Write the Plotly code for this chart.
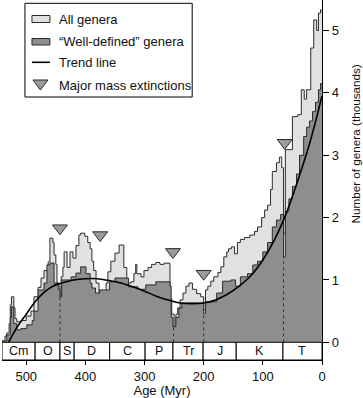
import plotly.graph_objects as go

# ---------------- data ----------------
all_age = [541, 536, 533, 529, 527, 525, 521, 519, 516, 509, 500, 492, 487, 480, 475, 470,
           463, 460, 455, 453, 450, 448, 445, 443, 441, 438, 436, 431, 426, 421, 416, 411,
           408, 401, 396, 392, 389, 386, 382, 377, 371, 365, 362, 357, 350, 343, 335, 330,
           323, 318, 315, 313, 306, 301, 294, 288, 281, 274, 267, 257, 254, 250, 247, 244,
           240, 235, 230, 225, 219, 212, 205, 200, 197, 193, 188, 183, 176, 171, 166, 161,
           158, 153, 148, 143, 138, 131, 122, 114, 109, 102, 97, 92, 87, 84, 77, 72,
           68, 65, 62, 50, 41, 35, 30, 26, 19, 14, 9, 6, 2.5, 0]
all_val = [0.02, 0.10, 0.15, 0.30, 0.60, 0.73, 0.55, 0.38, 0.33, 0.35, 0.42, 0.50, 0.73, 0.88, 1.03, 1.15,
           1.29, 1.67, 1.60, 1.40, 1.25, 0.95, 0.90, 0.73, 1.05, 1.20, 1.45, 1.20, 1.45, 1.35, 1.55, 1.72,
           1.75, 1.70, 1.60, 1.50, 1.30, 1.15, 0.95, 0.70, 0.80, 0.95, 1.13, 1.30, 1.43, 1.56, 1.20, 0.95,
           0.97, 1.10, 1.25, 1.10, 1.05, 1.15, 1.20, 1.25, 1.28, 1.25, 1.27, 0.70, 0.45, 0.25, 0.45, 0.55,
           0.68, 0.79, 0.90, 0.95, 0.85, 0.78, 0.73, 0.52, 0.84, 0.90, 0.98, 1.05, 1.12, 1.21, 1.37, 1.45,
           1.50, 1.53, 1.42, 1.60, 1.65, 1.68, 1.72, 1.78, 1.85, 2.00, 2.12, 2.20, 2.45, 2.74, 2.88, 2.97,
           2.80, 1.75, 3.09, 3.62, 3.65, 4.05, 3.90, 4.05, 4.72, 5.17, 5.00, 5.28, 5.33, 5.33]

wd_age = [541, 533, 527, 525, 521, 516, 509, 499, 490, 487, 480, 470, 465, 460, 453, 446,
          443, 440, 424, 416, 408, 399, 392, 389, 383, 376, 359, 350, 327, 311, 298, 281,
          257, 255, 252, 247, 242, 237, 200, 197, 178, 168, 154, 146, 138, 126, 117, 109,
          100, 92, 84, 77, 70, 65, 62, 56, 50, 43, 38, 31, 26, 21, 16, 11, 6, 2.5, 0]
wd_val = [0.02, 0.12, 0.40, 0.57, 0.30, 0.20, 0.22, 0.28, 0.35, 0.50, 0.84, 0.95, 1.24, 1.27, 0.95, 0.85,
          0.73, 1.00, 1.05, 1.11, 1.21, 1.10, 0.95, 0.87, 0.79, 0.84, 0.97, 1.03, 0.89, 0.85, 0.92, 0.97,
          0.90, 0.40, 0.25, 0.40, 0.55, 0.63, 0.46, 0.65, 0.79, 0.98, 1.00, 0.90, 1.05, 1.10, 1.24, 1.30,
          1.45, 1.60, 1.85, 1.96, 2.05, 1.37, 2.10, 2.30, 2.50, 2.70, 3.00, 3.30, 3.45, 3.55, 3.70, 3.85,
          4.05, 4.15, 4.15]

trend_age = [530, 515, 500, 485, 470, 455, 440, 420, 400, 380, 360, 340, 320, 300, 280, 260,
             240, 220, 200, 180, 160, 140, 120, 100, 80, 60, 40, 20, 0]
trend_val = [0.00, 0.25, 0.45, 0.65, 0.80, 0.90, 0.95, 1.00, 1.02, 1.02, 0.99, 0.95, 0.89, 0.82, 0.74, 0.68,
             0.63, 0.62, 0.63, 0.68, 0.77, 0.90, 1.07, 1.32, 1.65, 2.08, 2.62, 3.22, 3.95]

ext_age = [443, 375, 252, 200, 63]
ext_mark = [1.83, 1.72, 1.45, 1.10, 3.20]

dash_age = [443, 251, 200, 65]
dash_top = [0.73, 0.25, 0.46, 1.37]

period_names = ["Cm", "O", "S", "D", "C", "P", "Tr", "J", "K", "T"]
period_bounds = [541, 485, 443, 419, 359, 299, 252, 201, 145, 66, 0]

x_ticks = [500, 400, 300, 200, 100, 0]
y_ticks = [0, 1, 2, 3, 4, 5]

legend_names = ["All genera", "“Well-defined” genera", "Trend line", "Major mass extinctions"]

# ---------------- styling / layout constants ----------------
FONT = "Liberation Sans, Arial, Helvetica, sans-serif"
TXT = "#111111"
Y_MIN, Y_MAX = -0.284, 5.49
OUTLINE = "#2b2b2b"
LIGHT = "#e1e1e1"
DARK = "#8e8e8e"
TRI = "#9b9b9b"
W, H = 363, 398
ML, MR, MT, MB = 2, 40.5, 0, 38
PW, PH = W - ML - MR, H - MT - MB


def px(X):  # window pixel x -> paper
    return (X - ML) / PW


def py(Y):  # window pixel y -> paper
    return 1 - (Y - MT) / PH


fig = go.Figure()

fig.add_trace(go.Scatter(
    x=all_age, y=all_val, mode="lines", line=dict(shape="hv", color=OUTLINE, width=1),
    fill="tozeroy", fillcolor=LIGHT, name=legend_names[0], showlegend=False))

fig.add_trace(go.Scatter(
    x=wd_age, y=wd_val, mode="lines", line=dict(shape="hv", color=OUTLINE, width=1),
    fill="tozeroy", fillcolor=DARK, name=legend_names[1], showlegend=False))

# dashed extinction lines
dx, dy = [], []
for a, t in zip(dash_age, dash_top):
    dx += [a, a, None]
    dy += [0, t, None]
fig.add_trace(go.Scatter(x=dx, y=dy, mode="lines", line=dict(color="#333333", width=1, dash="3px,3px"),
                         showlegend=False, hoverinfo="skip"))

fig.add_trace(go.Scatter(
    x=trend_age, y=trend_val, mode="lines", line=dict(shape="spline", color="black", width=1.6),
    name=legend_names[2], showlegend=False))

fig.add_trace(go.Scatter(
    x=ext_age, y=ext_mark, mode="markers",
    marker=dict(symbol="triangle-down", size=13, color=TRI, line=dict(color=OUTLINE, width=1)),
    name=legend_names[3], showlegend=False))

# geologic period bar
for i, name in enumerate(period_names):
    x0, x1 = period_bounds[i], period_bounds[i + 1]
    fig.add_shape(type="rect", xref="x", yref="y", x0=x0, x1=x1, y0=Y_MIN, y1=0,
                  line=dict(color="black", width=1), fillcolor="white", layer="above")
    fig.add_annotation(x=(x0 + x1) / 2, y=Y_MIN / 2, xref="x", yref="y", text=name,
                       showarrow=False, font=dict(family=FONT, size=12.5, color=TXT))

# legend box (drawn to match the reference's compact key)
fig.add_shape(type="rect", xref="paper", yref="paper", x0=px(25), x1=px(192.5), y0=py(97), y1=py(3.3),
              line=dict(color="black", width=1), fillcolor="white", layer="above")
fig.add_shape(type="rect", xref="paper", yref="paper", x0=px(32), x1=px(50), y0=py(22.5), y1=py(15.5),
              line=dict(color=OUTLINE, width=1), fillcolor=LIGHT, layer="above")
fig.add_shape(type="rect", xref="paper", yref="paper", x0=px(32), x1=px(50), y0=py(45), y1=py(38.5),
              line=dict(color=OUTLINE, width=1), fillcolor=DARK, layer="above")
fig.add_shape(type="line", xref="paper", yref="paper", x0=px(32), x1=px(50), y0=py(62.3), y1=py(62.3),
              line=dict(color="black", width=1.6), layer="above")
tri_path = "M {:.5f} {:.5f} L {:.5f} {:.5f} L {:.5f} {:.5f} Z".format(
    px(33), py(80), px(48), py(80), px(40.5), py(90))
fig.add_shape(type="path", xref="paper", yref="paper", path=tri_path,
              line=dict(color=OUTLINE, width=1), fillcolor=TRI, layer="above")
for name, yc in zip(legend_names, [19, 41.5, 62.5, 85]):
    fig.add_annotation(x=px(57.5), y=py(yc), xref="paper", yref="paper", text=name, showarrow=False,
                       xanchor="left", yanchor="middle", font=dict(family=FONT, size=13, color=TXT))

# y-axis title placed like the reference
fig.add_annotation(x=px(356), y=py(144), xref="paper", yref="paper", text="Number of genera (thousands)",
                   showarrow=False, textangle=-90, xanchor="center", yanchor="middle",
                   font=dict(family=FONT, size=11.7, color=TXT))

fig.update_layout(
    width=W, height=H,
    margin=dict(l=ML, r=MR, t=MT, b=MB),
    paper_bgcolor="white", plot_bgcolor="white",
    font=dict(family=FONT, size=12, color=TXT),
    showlegend=False,
    xaxis=dict(range=[541, 0], tickvals=x_ticks, ticks="outside", ticklen=4, tickcolor="black",
               showline=True, linecolor="black", linewidth=1, showgrid=False, zeroline=False,
               automargin=False, tickfont=dict(size=13),
               title=dict(text="Age (Myr)", font=dict(size=13), standoff=3)),
    yaxis=dict(range=[Y_MIN, Y_MAX], side="right", tickvals=y_ticks, ticks="outside", ticklen=6,
               tickcolor="black", showline=True, linecolor="black", linewidth=1.2, showgrid=False,
               zeroline=False, automargin=False, tickfont=dict(size=13)),
)

fig.write_html("out.html", config={"displayModeBar": False},
               post_script="document.body.style.margin='0';document.body.style.padding='0';")
